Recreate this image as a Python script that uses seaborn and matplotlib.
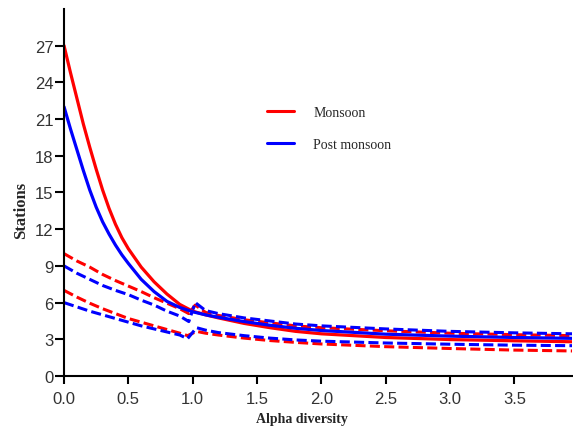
import matplotlib
matplotlib.use("Agg")
import matplotlib.pyplot as plt
import seaborn as sns

# ---- data ----
x_fit = [0, 0.05, 0.1, 0.15, 0.2, 0.25, 0.3, 0.35, 0.4, 0.45, 0.5, 0.6, 0.7, 0.8, 0.9, 1.0,
         1.1, 1.2, 1.4, 1.6, 1.8, 2.0, 2.5, 3.0, 3.5, 3.95]
monsoon_fit = [27.0, 24.8, 22.7, 20.6, 18.7, 16.9, 15.2, 13.7, 12.4, 11.3, 10.4, 8.9, 7.7, 6.7, 5.85, 5.3,
               5.0, 4.75, 4.3, 3.95, 3.65, 3.45, 3.15, 2.98, 2.88, 2.8]
post_fit = [22.0, 20.2, 18.5, 16.8, 15.2, 13.8, 12.6, 11.6, 10.7, 9.9, 9.2, 7.9, 6.9, 6.1, 5.6, 5.25,
            5.0, 4.8, 4.45, 4.15, 3.9, 3.72, 3.42, 3.26, 3.15, 3.08]

x_band_up = [0, 0.1, 0.2, 0.3, 0.4, 0.5, 0.6, 0.7, 0.8, 0.9, 0.97, 1.02, 1.1, 1.2, 1.4, 1.6,
             1.8, 2.0, 2.5, 3.0, 3.5, 3.95]
monsoon_upper = [10, 9.4, 8.9, 8.3, 7.8, 7.35, 6.9, 6.4, 5.95, 5.5, 5.1, 5.8, 5.2, 4.95, 4.6, 4.35,
                 4.1, 3.95, 3.7, 3.5, 3.38, 3.3]
post_upper = [9.0, 8.4, 7.9, 7.4, 7.0, 6.65, 6.2, 5.8, 5.3, 4.9, 4.45, 6.0, 5.35, 5.1, 4.75, 4.5,
              4.25, 4.1, 3.85, 3.65, 3.53, 3.45]

x_band_lo = [0, 0.1, 0.2, 0.3, 0.4, 0.5, 0.6, 0.7, 0.8, 0.9, 0.96, 1.03, 1.1, 1.2, 1.4, 1.6,
             1.8, 2.0, 2.5, 3.0, 3.5, 3.95]
monsoon_lower = [7.0, 6.45, 5.95, 5.5, 5.1, 4.7, 4.4, 4.1, 3.8, 3.5, 3.3, 3.65, 3.5, 3.35, 3.1, 2.9,
                 2.75, 2.62, 2.4, 2.25, 2.12, 2.05]
post_lower = [6.0, 5.65, 5.3, 5.0, 4.7, 4.4, 4.1, 3.85, 3.6, 3.35, 3.05, 3.95, 3.75, 3.55, 3.3, 3.1,
              2.95, 2.85, 2.7, 2.6, 2.52, 2.48]

series_names = ["Monsoon", "Post monsoon"]
series_colors = ["#ff0000", "#0000ff"]
y_ticks = [0, 3, 6, 9, 12, 15, 18, 21, 24, 27]
x_ticks = [0.0, 0.5, 1.0, 1.5, 2.0, 2.5, 3.0, 3.5]

sns.set_theme(style="white")
plt.rcParams["font.family"] = ["Liberation Sans", "DejaVu Sans"]

fig = plt.figure(figsize=(5.73, 4.27), dpi=100)
ax = fig.add_axes([0.1117, 0.117, 0.887, 0.86])

fits = [monsoon_fit, post_fit]
uppers = [monsoon_upper, post_upper]
lowers = [monsoon_lower, post_lower]
dash = (0, (3.3, 1.4))

for name, col, up, lo in zip(series_names, series_colors, uppers, lowers):
    sns.lineplot(x=x_band_up, y=up, ax=ax, color=col, lw=2.2, linestyle=dash,
                 estimator=None, sort=False, legend=False)
    sns.lineplot(x=x_band_lo, y=lo, ax=ax, color=col, lw=2.2, linestyle=dash,
                 estimator=None, sort=False, legend=False)

for name, col, f in zip(series_names, series_colors, fits):
    sns.lineplot(x=x_fit, y=f, ax=ax, color=col, lw=2.3, label=name,
                 estimator=None, sort=False)

ax.set_xlim(0, 3.95)
ax.set_ylim(0, 30)
ax.set_xticks(x_ticks)
ax.set_xticklabels([f"{v:.1f}" for v in x_ticks])
ax.set_yticks(y_ticks)
ax.set_yticklabels([str(v) for v in y_ticks])

for s in ["top", "right"]:
    ax.spines[s].set_visible(False)
for s in ["left", "bottom"]:
    ax.spines[s].set_color("black")
    ax.spines[s].set_linewidth(1.5)
ax.tick_params(axis="both", direction="out", width=1.5, color="black",
               labelsize=12, labelcolor="#333333", left=True, bottom=True)
ax.tick_params(axis="y", length=6.5, pad=1)
ax.tick_params(axis="x", length=5.5, pad=5)

ax.set_xlabel("Alpha diversity", family=["Liberation Serif"], fontweight="bold",
              fontsize=10)
ax.xaxis.set_label_coords(0.469, -0.098)
ax.set_ylabel("Stations", family=["Liberation Serif"], fontweight="bold",
              fontsize=12)
ax.yaxis.set_label_coords(-0.068, 0.455)

leg = ax.legend(loc="center left", bbox_to_anchor=(0.3996, 0.674), frameon=False,
                prop={"family": "Liberation Serif", "size": 10},
                handlelength=1.95, handletextpad=1.37, labelspacing=1.37,
                borderpad=0, borderaxespad=0)
for h in leg.get_lines():
    h.set_linewidth(2.2)

fig.savefig("out.png", dpi=100)
